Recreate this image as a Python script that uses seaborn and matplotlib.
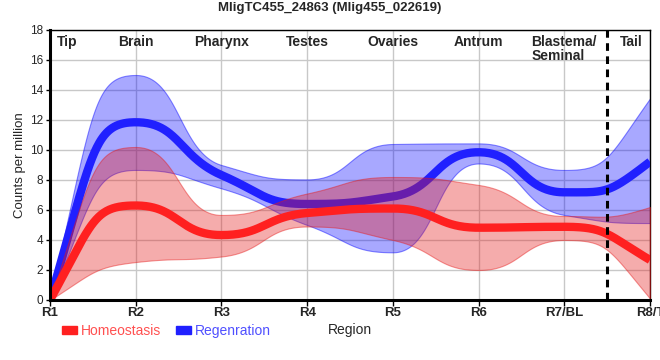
import numpy as np
import pandas as pd
import seaborn as sns
import matplotlib
matplotlib.use("Agg")
import matplotlib.pyplot as plt
from matplotlib.patches import Patch

# regions along the body (x axis) and the organ names written at the top
regions = ["R1", "R2", "R3", "R4", "R5", "R6", "R7/BL", "R8/T"]
organs = ["Tip", "Brain", "Pharynx", "Testes", "Ovaries", "Antrum", "Blastema/\nSeminal", "Tail"]
organ_x = [0.2, 1.0, 2.0, 3.0, 4.0, 5.0, 6.0, 6.78]

# homeostasis: mean and band
homeo_mean = [0.0, 6.3, 4.33, 5.8, 6.1, 4.82, 4.88, 2.67]
homeo_upper = [0.0, 10.2, 5.67, 7.1, 8.2, 7.67, 5.6, 6.2]
homeo_lower = [0.0, 2.53, 2.9, 4.9, 4.0, 2.0, 4.0, 0.1]

# regeneration: mean and band
regen_mean = [0.0, 11.85, 8.33, 6.4, 6.9, 9.85, 7.18, 9.22]
regen_upper = [0.0, 15.0, 9.0, 8.04, 10.4, 10.44, 8.67, 13.44]
regen_lower = [0.0, 8.67, 7.44, 5.0, 3.18, 9.1, 5.67, 5.13]

RED = "#ff2020"
BLUE = "#2020ff"


def smooth(y, a=0.5, n=80):
    # bezier per segment, pchip tangents, control points pushed out by a*h
    x = np.arange(len(y), dtype=float)
    y = np.asarray(y, dtype=float)
    h = np.diff(x)
    d = np.diff(y) / h
    m = np.zeros(len(y))
    for k in range(1, len(y) - 1):
        if d[k - 1] * d[k] > 0:
            w1 = 2 * h[k] + h[k - 1]
            w2 = h[k] + 2 * h[k - 1]
            m[k] = (w1 + w2) / (w1 / d[k - 1] + w2 / d[k])
    def end(h0, h1, d0, d1):
        s = ((2 * h0 + h1) * d0 - h0 * d1) / (h0 + h1)
        if np.sign(s) != np.sign(d0):
            return 0.0
        if np.sign(d0) != np.sign(d1) and abs(s) > abs(3 * d0):
            return 3 * d0
        return s
    m[0] = end(h[0], h[1], d[0], d[1])
    m[-1] = end(h[-1], h[-2], d[-1], d[-2])
    xs, ys = [], []
    for k in range(len(y) - 1):
        t = np.linspace(0, 1, n, endpoint=(k == len(y) - 2))
        b0, b1, b2, b3 = (1 - t)**3, 3 * (1 - t)**2 * t, 3 * (1 - t) * t**2, t**3
        px = [x[k], x[k] + a * h[k], x[k + 1] - a * h[k], x[k + 1]]
        py = [y[k], y[k] + a * h[k] * m[k], y[k + 1] - a * h[k] * m[k + 1], y[k + 1]]
        xs.append(b0 * px[0] + b1 * px[1] + b2 * px[2] + b3 * px[3])
        ys.append(b0 * py[0] + b1 * py[1] + b2 * py[2] + b3 * py[3])
    return np.concatenate(xs), np.clip(np.concatenate(ys), 0, None)


sns.set_theme(style="whitegrid")
plt.rcParams["font.family"] = ["Liberation Sans", "DejaVu Sans"]

fig = plt.figure(figsize=(6.6, 3.6), dpi=100)
ax = fig.add_axes([50 / 660, 60 / 360, 600 / 660, 270 / 360])

z = 2
for mean, up, lo, col, fill in [(regen_mean, regen_upper, regen_lower, BLUE, (0, 0, 1, 0.34)),
                                (homeo_mean, homeo_upper, homeo_lower, RED, (0.9, 0.1, 0.1, 0.36))]:
    xs, yu = smooth(up)
    _, yl = smooth(lo)
    ax.fill_between(xs, yl, yu, facecolor=fill,
                    edgecolor=(fill[0], fill[1], fill[2], 0.45), lw=0.8, zorder=z)
    xm, ym = smooth(mean)
    df = pd.DataFrame({"x": xm, "y": ym})
    sns.lineplot(data=df, x="x", y="y", color=col, lw=6, ax=ax, zorder=z + 1,
                 solid_capstyle="butt")
    z += 2

ax.axvline(6.5, color="black", ls=(0, (2.5, 1.8)), lw=2.2, zorder=7)

ax.set_xlim(0, 7)
ax.set_ylim(0, 18)
ax.set_xticks(range(len(regions)))
ax.set_xticklabels(regions, fontweight="bold", fontsize=9.5)
ax.set_yticks(range(0, 19, 2))
ax.tick_params(axis="y", labelsize=8.5, length=3, width=1, pad=2, left=True, color="black")
ax.tick_params(axis="x", length=4, width=1, pad=1, bottom=True, color="black")
ax.grid(True, color="#c8c8c8", lw=1)
ax.set_facecolor("white")
for side in ["top", "right"]:
    ax.spines[side].set_color("black")
    ax.spines[side].set_linewidth(1)
for side in ["left", "bottom"]:
    ax.spines[side].set_color("black")
    ax.spines[side].set_linewidth(2.2)
    ax.spines[side].set_zorder(8)

ax.set_ylabel("Counts per million", fontsize=9.5, labelpad=3)
ax.set_xlabel("Region", fontsize=10, labelpad=3)

trans = ax.get_xaxis_transform()
for name, xo in zip(organs, organ_x):
    ax.text(xo, 0.983, name, transform=trans, ha="center", va="top",
            fontsize=10, fontweight="bold", multialignment="left", linespacing=1.0)

fig.suptitle("MligTC455_24863 (Mlig455_022619)", x=0.5, y=0.995, fontsize=9.5,
             fontweight="bold", va="top")

handles = [Patch(color=RED), Patch(color=BLUE)]
fig.legend(handles, ["Homeostasis", "Regenration"], loc="center left",
           bbox_to_anchor=(55 / 660, 1 - 331 / 360), ncol=2, frameon=False,
           fontsize=10, handlelength=1.05, handleheight=0.55, handletextpad=0.3,
           columnspacing=1.1, borderpad=0, labelcolor=["#ff5050", "#5050ff"])

fig.savefig("out.png", dpi=100)
